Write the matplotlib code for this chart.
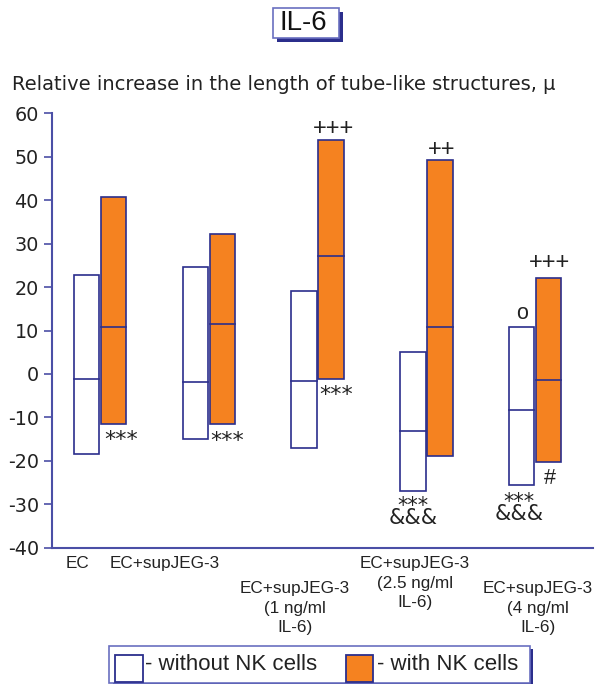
import matplotlib
matplotlib.use("Agg")
import matplotlib.pyplot as plt
from matplotlib.patches import Rectangle
from matplotlib.transforms import ScaledTranslation

plt.rcParams['font.family'] = ['Liberation Sans', 'DejaVu Sans']

# ---- data ----
groups = ["EC", "EC+supJEG-3", "EC+supJEG-3\n(1 ng/ml\nIL-6)",
          "EC+supJEG-3\n(2.5 ng/ml\nIL-6)", "EC+supJEG-3\n(4 ng/ml\nIL-6)"]
without_top = [22.8, 24.6, 19.2, 5.0, 10.8]
without_med = [-1.1, -1.9, -1.7, -13.2, -8.3]
without_bot = [-18.4, -15.0, -17.1, -26.9, -25.6]
with_top = [40.8, 32.1, 53.9, 49.2, 22.2]
with_med = [10.8, 11.5, 27.2, 10.7, -1.5]
with_bot = [-11.5, -11.6, -1.2, -19.0, -20.3]
yticks = [-40, -30, -20, -10, 0, 10, 20, 30, 40, 50, 60]
# significance marks: (x, y, text)
marks = [
    (0.196, -13.9, "***"), (1.167, -14.2, "***"), (2.174, -3.5, "***"),
    (2.151, 56.8, "+++"), (3.140, 52.0, "++"),
    (3.878, 14.0, "o"), (4.138, 26.0, "+++"), (4.138, -23.5, "#"),
]
stacked_marks = [(2.878, -31.8, "***\n&&&"), (3.852, -30.8, "***\n&&&")]
label_x = [-0.205, 0.596, 1.792, 2.896, 4.028]
label_row = [0, 0, 1, 0, 1]

W, H = 596, 684
NAVY = "#2B2E8C"
SPINE = "#4B4FA6"
ORANGE = "#F58220"
TXT = "#222222"

fig = plt.figure(figsize=(W / 100, H / 100), dpi=100)

def fx(px):
    return px / W

def fy(py):
    return 1 - py / H

ax = fig.add_axes([fx(51.7), fy(547.7), fx(592.7) - fx(51.7), fy(113.3) - fy(547.7)])
ax.set_xlim(-0.446, 4.531)
ax.set_ylim(-40, 60)
for s in ["top", "right"]:
    ax.spines[s].set_visible(False)
for s in ["left", "bottom"]:
    ax.spines[s].set_color(SPINE)
    ax.spines[s].set_linewidth(1.5)
ax.set_xticks([])
ax.set_yticks(yticks)
ax.set_yticklabels([str(t) for t in yticks], fontsize=13.8, color=TXT,
                   family=['DejaVu Sans'])
ax.tick_params(axis='y', length=5.8, width=1.2, color=SPINE, pad=3.5)

bw = 0.235
off = 0.124
xs = list(range(len(groups)))
xw = [x - off for x in xs]
xo = [x + off for x in xs]
ax.bar(xw, [t - b for t, b in zip(without_top, without_bot)], bottom=without_bot,
       width=bw, color="white", edgecolor=NAVY, linewidth=1.2, zorder=3)
ax.bar(xo, [t - b for t, b in zip(with_top, with_bot)], bottom=with_bot,
       width=bw, color=ORANGE, edgecolor=NAVY, linewidth=1.2, zorder=3)
for x, m in zip(xw, without_med):
    ax.plot([x - bw / 2, x + bw / 2], [m, m], color=NAVY, lw=1.2, zorder=4)
for x, m in zip(xo, with_med):
    ax.plot([x - bw / 2, x + bw / 2], [m, m], color=NAVY, lw=1.2, zorder=4)

# ink-centre height above baseline (in em) for each mark glyph
ink_center = {"*": 0.52, "+": 0.35, "&": 0.36, "#": 0.35, "o": 0.26}
for x, y, t in marks:
    if t[0] == "*":
        fs, fam = 16, ['DejaVu Sans']
    elif t[0] == "+":
        fs, fam = 17, ['Liberation Sans']
    else:
        fs, fam = 15.5, ['Liberation Sans']
    dy = ink_center[t[0]] * fs / 72.0
    tr = ax.transData + ScaledTranslation(0, -dy, fig.dpi_scale_trans)
    ax.text(x, y, t, ha='center', va='baseline', fontsize=fs, color=TXT,
            family=fam, transform=tr)

for x, y, t in stacked_marks:
    ax.text(x, y, t, ha='center', va='center', fontsize=15, color=TXT,
            family=['DejaVu Sans'], linespacing=0.5, multialignment='center')

# category labels
row_y = [563.0, 588.0]
for x, r, g in zip(label_x, label_row, groups):
    xp = ax.transData.transform((x, 0))[0]
    fig.text(xp / W, fy(row_y[r] - 7), g, ha='center', va='top', fontsize=12.3,
             color=TXT, linespacing=1.38)

# axis caption
fig.text(fx(12), fy(84), "Relative increase in the length of tube-like structures, μ",
         ha='left', va='center', fontsize=14, color=TXT, family=['DejaVu Sans'])

# IL-6 title box with shadow
fig.patches.append(Rectangle((fx(277), fy(41.7)), fx(342.7) - fx(277), fy(12) - fy(41.7),
                             transform=fig.transFigure, facecolor=NAVY, edgecolor='none'))
fig.patches.append(Rectangle((fx(273.3), fy(38.3)), fx(339) - fx(273.3), fy(8.3) - fy(38.3),
                             transform=fig.transFigure, facecolor='white',
                             edgecolor="#6A6FC0", linewidth=1.2))
fig.text(fx(303.5), fy(23.5), "IL-6", ha='center', va='center', fontsize=20, color='#111111')

# legend box with shadow
fig.patches.append(Rectangle((fx(113), fy(686)), fx(533) - fx(113), fy(649) - fy(686),
                             transform=fig.transFigure, facecolor=NAVY, edgecolor='none'))
fig.patches.append(Rectangle((fx(109), fy(683)), fx(530) - fx(109), fy(646) - fy(683),
                             transform=fig.transFigure, facecolor='white',
                             edgecolor="#6A6FC0", linewidth=1.2))
fig.patches.append(Rectangle((fx(115), fy(682)), fx(143) - fx(115), fy(655) - fy(682),
                             transform=fig.transFigure, facecolor='white',
                             edgecolor=NAVY, linewidth=1.3))
fig.patches.append(Rectangle((fx(346), fy(682)), fx(373) - fx(346), fy(655) - fy(682),
                             transform=fig.transFigure, facecolor=ORANGE,
                             edgecolor=NAVY, linewidth=1.3))
fig.text(fx(145), fy(665), "- without NK cells", ha='left', va='center', fontsize=16, color=TXT)
fig.text(fx(376.7), fy(665), "- with NK cells", ha='left', va='center', fontsize=16, color=TXT)

fig.savefig("out.png", dpi=100)
